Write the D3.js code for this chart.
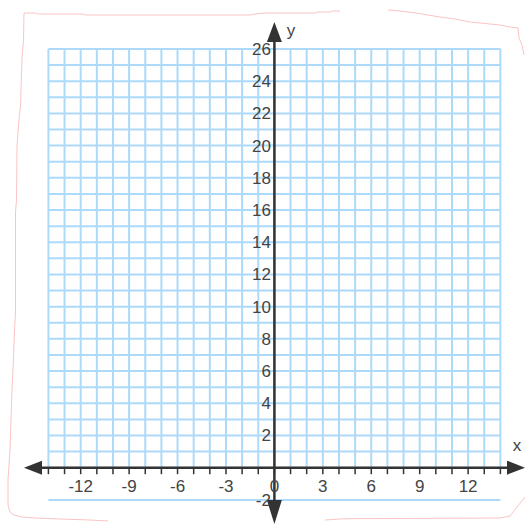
<!DOCTYPE html>
<html>
<head>
<meta charset="utf-8">
<script src="https://cdn.jsdelivr.net/npm/d3@7"></script>
<style>
  html, body { margin: 0; padding: 0; background: #fff; }
  svg { display: block; }
  text { font-family: "Liberation Sans", Arial, sans-serif; }
</style>
</head>
<body>
<svg id="chart" width="525" height="524"></svg>
<script>
// ---- data ----
const xDomain = [-14, 14];
const yDomain = [-2, 26];
const xGridValues = d3.range(-14, 15, 1);
const yGridValues = d3.range(0, 27, 1).concat([-2]);
const xTickValues = d3.range(-14, 15, 1);
const xTickLabels = [-12, -9, -6, -3, 0, 3, 6, 9, 12];
const yTickLabels = [26, 24, 22, 20, 18, 16, 14, 12, 10, 8, 6, 4, 2, -2];
const axisNames = { x: "x", y: "y" };

// ---- layout ----
const svg = d3.select("#chart");
const x = d3.scaleLinear().domain(xDomain).range([48.4, 500.4]);
const y = d3.scaleLinear().domain(yDomain).range([499.9, 49.0]);

// decorative pink torn-paper border
const border = [
  [[24,13],[36,13],[37,14],[84,14],[85,15],[250,15],[255,14],[265,13],[315,13],[318,12],[330,12],[332,11],[340,11]],
  [[388,10],[400,11],[416,13],[440,17],[455,19],[470,22],[500,25],[510,27],[518,28],[519,38],[522,45],[524,55]],
  [[24,13],[23.5,40],[22,58],[20.5,105],[19,120],[17,145],[16.5,200],[15.5,212],[15.5,313],[14.5,330],[13,370],[12,390],[10,450],[8,480],[8,505],[10,512],[14,515],[22,517],[35,518],[60,519],[90,520],[108,521]],
  [[325,520],[340,519],[350,518.7],[500,518],[510,516],[525,497]]
];
const line = d3.line();
svg.append("g").selectAll("path").data(border).join("path")
  .attr("d", line).attr("fill", "none")
  .attr("stroke", "#fbc4c4").attr("stroke-width", 1);

// grid
const grid = svg.append("g").attr("stroke", "#addafa").attr("stroke-width", 2);
grid.selectAll("line.v").data(xGridValues).join("line").attr("class", "v")
  .attr("x1", d => x(d)).attr("x2", d => x(d))
  .attr("y1", y(0)).attr("y2", y(26));
grid.selectAll("line.h").data(yGridValues).join("line").attr("class", "h")
  .attr("x1", x(-14)).attr("x2", x(14))
  .attr("y1", d => y(d)).attr("y2", d => y(d));

const axisColor = "#333";
// x ticks
svg.append("g").selectAll("line").data(xTickValues).join("line")
  .attr("x1", d => x(d)).attr("x2", d => x(d))
  .attr("y1", y(0)).attr("y2", y(0) + 6.5)
  .attr("stroke", axisColor).attr("stroke-width", 1.5);

// axes lines
svg.append("line").attr("x1", 40).attr("x2", 509).attr("y1", y(0)).attr("y2", y(0))
  .attr("stroke", axisColor).attr("stroke-width", 2.5);
svg.append("line").attr("x1", x(0)).attr("x2", x(0)).attr("y1", 40).attr("y2", 502)
  .attr("stroke", axisColor).attr("stroke-width", 2.5);

// arrowheads
const y0 = y(0), x0 = x(0);
const arrows = [
  [[24, y0], [42, y0 - 7], [42, y0 + 7]],
  [[525, y0], [507, y0 - 7], [507, y0 + 7]],
  [[x0, 22], [x0 - 7.5, 42], [x0 + 7.5, 42]],
  [[x0, 524], [x0 - 7.5, 500], [x0 + 7.5, 500]]
];
svg.append("g").selectAll("path").data(arrows).join("path")
  .attr("d", d => "M" + d.join("L") + "Z").attr("fill", axisColor);

// x labels
svg.append("g").selectAll("text").data(xTickLabels).join("text")
  .attr("x", d => x(d)).attr("y", y(0) + 24)
  .attr("text-anchor", "middle").attr("font-size", 17).attr("fill", "#444")
  .text(d => d);

// y labels
svg.append("g").selectAll("text").data(yTickLabels).join("text")
  .attr("x", x(0) - 3.5).attr("y", d => y(d) + 6)
  .attr("text-anchor", "end").attr("font-size", 17).attr("fill", "#444")
  .text(d => d);

// axis names
svg.append("text").attr("x", 517).attr("y", 451).attr("text-anchor", "middle")
  .attr("font-size", 17).attr("fill", "#444").text(axisNames.x);
svg.append("text").attr("x", 291).attr("y", 36).attr("text-anchor", "middle")
  .attr("font-size", 17).attr("fill", "#444").text(axisNames.y);
</script>
</body>
</html>
